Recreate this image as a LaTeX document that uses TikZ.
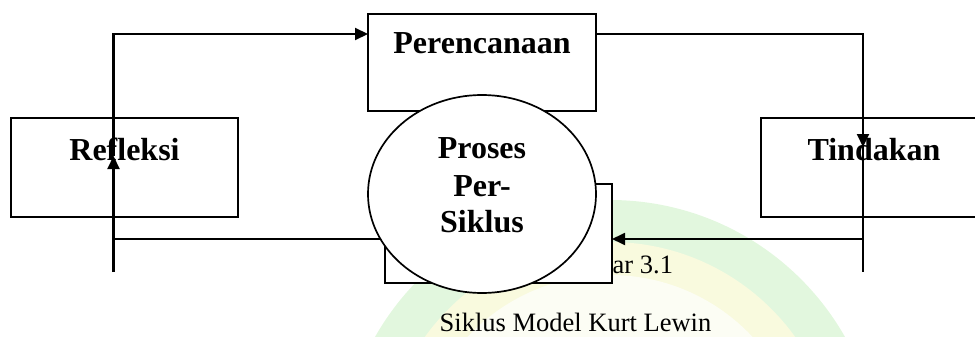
\documentclass[tikz,border=0pt]{standalone}
\usepackage{fontspec}
\setmainfont{Liberation Serif}
\usetikzlibrary{arrows.meta,shapes.geometric}
\definecolor{wmgreen}{RGB}{226,247,222}
\definecolor{wmyellow}{RGB}{249,250,222}
\definecolor{wmin}{RGB}{252,253,244}
\begin{document}
\begin{tikzpicture}[x=1pt,y=-1pt,
  boxshape/.style={draw,line width=2pt,inner sep=0pt,outer sep=0pt,rectangle},
  boldtxt/.style={font=\bfseries\fontsize{32}{37}\selectfont,inner sep=0pt,anchor=base},
  captxt/.style={font=\fontsize{26.5}{30}\selectfont,inner sep=0pt,anchor=base},
  conn/.style={line width=2.1pt},
  arr/.style={conn,-{Triangle[length=13pt,width=12pt]}}]
\useasboundingbox (0,0) rectangle (975,337);
% watermark
\begin{scope}
\clip (0,0) rectangle (975,337);
\fill[wmgreen] (610,470) circle[radius=270];
\fill[wmyellow] (610,470) circle[radius=228];
\fill[wmin] (610,470) circle[radius=195];
\end{scope}
% boxes
\node[boxshape,minimum width=228,minimum height=97] (plan) at (482,62.5) {};
\node[boldtxt] (planT) at (482,54) {Perencanaan};
\node[boxshape,minimum width=227,minimum height=99] (refl) at (124.5,167.5) {};
\node[boldtxt] (reflT) at (124.5,160) {Refleksi};
\node[boxshape,minimum width=227,minimum height=99] (act) at (874.5,167.5) {};
\node[boldtxt] (actT) at (874,160) {Tindakan};
% connector coordinates
\coordinate (lbot) at (113.5,272);
\coordinate (lmid) at (113.5,156);
\coordinate (rbot) at (863,272);
\coordinate (rmid) at (863,147);
\coordinate (plin) at (368,34);
\coordinate (plout) at (596,34);
% connectors
\draw[arr] (lbot) -- (lmid);
\draw[arr] (lmid) |- (plin);
\draw[conn] (plout) -| (rmid);
\draw[arr] (plout -| rmid) -- (rmid);
\draw[conn] (rmid) -- (rbot);
% caption under the text box
\node[captxt] (fig) at (610.5,273) {Gambar 3.1};
% text box behind the ellipse
\node[boxshape,line width=1.8pt,fill=white,minimum width=227,minimum height=99] (tbox) at (498.5,233.5) {};
\draw[conn,line width=1.8pt] (lbot |- tbox) ++(0,5.5) coordinate (lline) -- (lline -| tbox.west);
\draw[arr,line width=1.8pt] (rbot |- 0,239) coordinate (rline) -- (rline -| tbox.east);
% ellipse
\node[draw,ellipse,line width=1.7pt,fill=white,minimum width=228,minimum height=198,inner sep=0pt] (proc) at (482,194) {};
\node[boldtxt] (p1) at (482,158.3) {Proses};
\node[boldtxt] (p2) at (482,196) {Per-};
\node[boldtxt] (p3) at (482,232.5) {Siklus};
% bottom caption
\node[captxt] (cap) at (575.5,331.5) {Siklus Model Kurt Lewin};
\end{tikzpicture}
\end{document}
